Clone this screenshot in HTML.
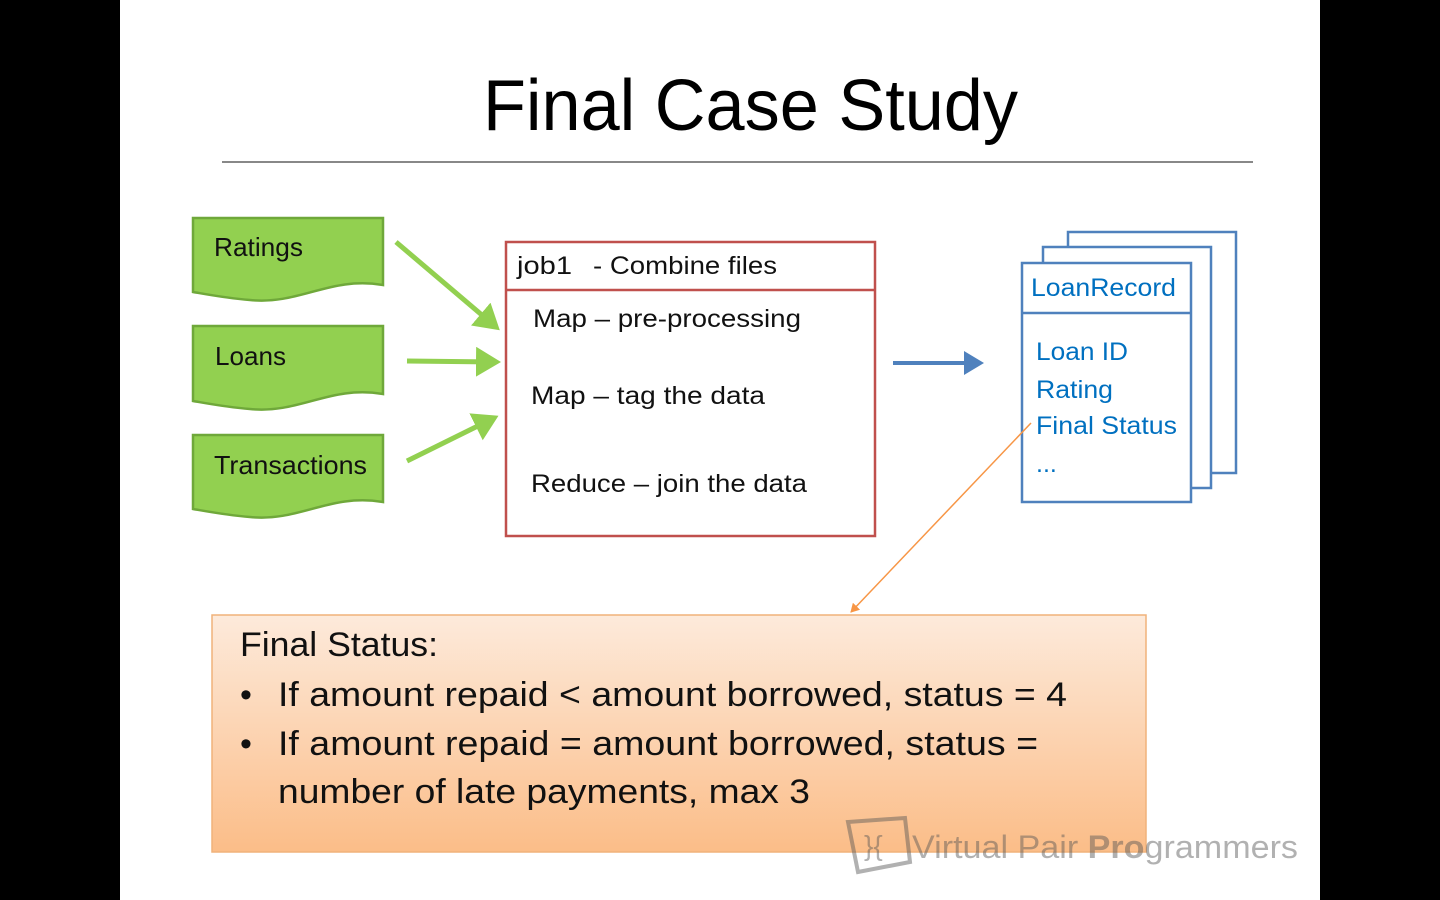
<!DOCTYPE html>
<html><head><meta charset="utf-8"><style>
html,body{margin:0;padding:0;background:#000;width:1440px;height:900px;overflow:hidden}
svg{display:block}
text{font-family:"Liberation Sans","DejaVu Sans",sans-serif}
</style></head><body>
<svg width="1440" height="900" viewBox="0 0 1440 900" xmlns="http://www.w3.org/2000/svg">
<defs>
<linearGradient id="og" x1="0" y1="0" x2="0" y2="1">
<stop offset="0" stop-color="#fdeadb"/><stop offset="1" stop-color="#fbbd88"/></linearGradient>
<marker id="ga" markerWidth="6" markerHeight="6" refX="4" refY="3" orient="auto" markerUnits="strokeWidth"><path d="M0,0 L5,3 L0,6z" fill="#92d050"/></marker>
<marker id="ba" markerWidth="6" markerHeight="6" refX="4" refY="3" orient="auto" markerUnits="strokeWidth"><path d="M0,0 L5,3 L0,6z" fill="#4f81bd"/></marker>
<marker id="oa" markerWidth="10" markerHeight="10" refX="8" refY="5" orient="auto" markerUnits="userSpaceOnUse"><path d="M0,0 L9,5 L0,10z" fill="#f79646"/></marker>
</defs>
<rect x="120" y="0" width="1200" height="900" fill="#fff"/>
<text x="483" y="130" font-size="72" textLength="535" lengthAdjust="spacingAndGlyphs" fill="#000">Final Case Study</text>
<line x1="222" y1="162" x2="1253" y2="162" stroke="#888" stroke-width="2"/>

<g fill="#92d050" stroke="#6fa83a" stroke-width="2.5">
<path d="M193,218 H383 V285 C330,276 300,305 250,300 C225,298 205,294 193,292 Z"/>
<path d="M193,326 H383 V394 C330,385 300,414 250,409 C225,407 205,403 193,401 Z"/>
<path d="M193,435 H383 V502 C330,493 300,522 250,517 C225,515 205,511 193,509 Z"/>
</g>
<g font-size="26" fill="#111" lengthAdjust="spacingAndGlyphs">
<text x="214" y="256" textLength="89" lengthAdjust="spacingAndGlyphs">Ratings</text>
<text x="215" y="365" textLength="71" lengthAdjust="spacingAndGlyphs">Loans</text>
<text x="214" y="474" textLength="153" lengthAdjust="spacingAndGlyphs">Transactions</text>
</g>
<g stroke="#92d050" stroke-width="5" fill="none">
<line x1="396" y1="242" x2="496" y2="327" marker-end="url(#ga)"/>
<line x1="407" y1="361" x2="496" y2="362" marker-end="url(#ga)"/>
<line x1="407" y1="461" x2="494" y2="418" marker-end="url(#ga)"/>
</g>

<rect x="506" y="242" width="369" height="294" fill="#fff" stroke="#c0504d" stroke-width="2.5"/>
<line x1="506" y1="290" x2="875" y2="290" stroke="#c0504d" stroke-width="2.5"/>
<g font-size="25" fill="#111">
<text x="517" y="274" textLength="55" lengthAdjust="spacingAndGlyphs">job1</text>
<text x="593" y="274" textLength="184" lengthAdjust="spacingAndGlyphs">- Combine files</text>
<text x="533" y="327" textLength="268" lengthAdjust="spacingAndGlyphs">Map – pre-processing</text>
<text x="531" y="404" textLength="234" lengthAdjust="spacingAndGlyphs">Map – tag the data</text>
<text x="531" y="492" textLength="276" lengthAdjust="spacingAndGlyphs">Reduce – join the data</text>
</g>
<line x1="893" y1="363" x2="980" y2="363" stroke="#4f81bd" stroke-width="4" marker-end="url(#ba)"/>

<g fill="#fff" stroke="#4f81bd" stroke-width="2.5">
<rect x="1068" y="232" width="168" height="241"/>
<rect x="1043" y="247" width="168" height="241"/>
<rect x="1022" y="263" width="169" height="239"/>
</g>
<line x1="1022" y1="313" x2="1191" y2="313" stroke="#4f81bd" stroke-width="2.5"/>
<g font-size="25" fill="#0070c0">
<text x="1031" y="296" textLength="145" lengthAdjust="spacingAndGlyphs">LoanRecord</text>
<text x="1036" y="360" textLength="92" lengthAdjust="spacingAndGlyphs">Loan ID</text>
<text x="1036" y="398" textLength="77" lengthAdjust="spacingAndGlyphs">Rating</text>
<text x="1036" y="434" textLength="141" lengthAdjust="spacingAndGlyphs">Final Status</text>
<text x="1036" y="472">...</text>
</g>
<line x1="1031" y1="423" x2="851" y2="612" stroke="#f79646" stroke-width="1.5" marker-end="url(#oa)"/>

<rect x="212" y="615" width="934" height="237" fill="url(#og)" stroke="#f0b27a" stroke-width="1.5"/>
<g font-size="34" fill="#111">
<text x="240" y="656" textLength="198" lengthAdjust="spacingAndGlyphs">Final Status:</text>
<text x="240" y="706">•</text><text x="278" y="706" textLength="789" lengthAdjust="spacingAndGlyphs">If amount repaid &lt; amount borrowed, status = 4</text>
<text x="240" y="755">•</text><text x="278" y="755" textLength="760" lengthAdjust="spacingAndGlyphs">If amount repaid = amount borrowed, status =</text>
<text x="278" y="803" textLength="532" lengthAdjust="spacingAndGlyphs">number of late payments, max 3</text>
</g>
<g opacity="0.45">
<path d="M848,822 L905,818 L910,862 L858,872 Z" fill="none" stroke="#555" stroke-width="4"/>
<text x="864" y="855" font-size="28" fill="#555">}{</text>
<text x="912" y="858" font-size="32" fill="#555" textLength="386" lengthAdjust="spacingAndGlyphs">Virtual Pair <tspan font-weight="bold">Pro</tspan>grammers</text>
</g>
</svg>
</body></html>
